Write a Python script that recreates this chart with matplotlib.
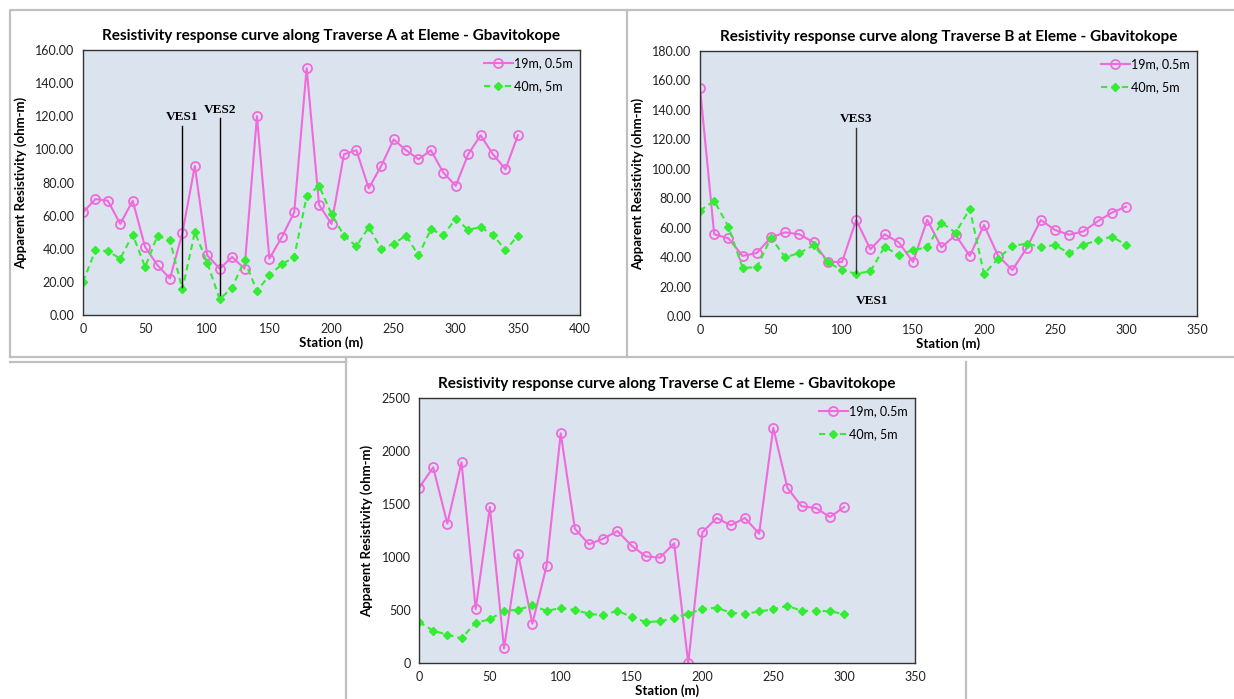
import matplotlib
matplotlib.use("Agg")
import matplotlib.pyplot as plt
from matplotlib.lines import Line2D

# station positions (m)
stations_a = list(range(0, 351, 10))
stations_bc = list(range(0, 301, 10))

# Traverse A
a_19m = [62, 70, 69, 55, 69, 41, 30, 22, 49.5, 90, 36, 28, 35, 28, 120, 34, 47, 62,
         149, 66.5, 55, 97, 99.5, 76.5, 90, 106, 99.5, 94, 99.5, 86, 78, 97, 108.5,
         97, 88, 108.5]
a_40m = [20, 39, 38.6, 34, 48.5, 29, 48, 45, 15.5, 50, 31.6, 9.5, 16.5, 33, 14.5, 24,
         30.6, 35, 71.6, 78, 61, 48, 41.5, 53, 40, 43, 48, 36, 51.7, 48.5, 58, 51.5,
         53, 48.5, 39, 48]

# Traverse B
b_19m = [155, 55.5, 52.8, 40.8, 42.8, 53.4, 56.8, 55.5, 50, 36.7, 36.7, 65.2, 45.3,
         55.5, 50, 36.7, 65.4, 46.6, 55, 40.8, 61.8, 40.8, 31.2, 46, 65.2, 58.4, 55.2,
         57.5, 64.3, 70.2, 74.3]
b_40m = [71.5, 78.3, 60.7, 32.8, 33, 53.2, 39.8, 42.8, 48, 36.7, 31, 28.8, 30.3, 47,
         41.4, 44.8, 46.6, 63.4, 56.6, 72.7, 28.5, 39, 47.8, 49, 47, 48.2, 42.6, 48.4,
         51.4, 53.9, 48.4]

# Traverse C
c_19m = [1651, 1846, 1315, 1893, 509, 1472, 138, 1028, 371, 915, 2167, 1267, 1120,
         1173, 1245, 1107, 1006, 994, 1129, 0, 1233, 1368, 1299, 1368, 1220, 2220,
         1651, 1478, 1462, 1377, 1472]
c_40m = [387, 305, 267, 233, 380, 412, 491, 503, 544, 491, 519, 500, 465, 450, 494,
         434, 387, 393, 425, 465, 509, 522, 475, 462, 487, 506, 541, 491, 494, 487, 462]

PINK = "#EF6ADB"
GREEN = "#35EC35"
BG = "#DBE3EF"
W, H = 1234, 699

fig = plt.figure(figsize=(W / 100, H / 100), dpi=100)
fig.patch.set_facecolor("white")


def box(x0, y0, x1, y1):
    return [x0 / W, 1 - y1 / H, (x1 - x0) / W, (y1 - y0) / H]


def frame_line(xs, ys):
    fig.add_artist(Line2D([x / W for x in xs], [1 - y / H for y in ys],
                          color="#C0C0C0", lw=1.6))


# panel frames
frame_line([10, 10, 1234], [357, 10, 10])
frame_line([10, 1234], [357, 357])
frame_line([627, 627], [10, 357])
frame_line([346, 346], [362, 699])
frame_line([966, 966], [362, 699])
frame_line([10, 346], [362, 362])
frame_line([346, 346], [357, 362])


def panel(rect, x, s1, s2, ymax, ystep, yfmt, title):
    ax = fig.add_axes(rect)
    ax.set_facecolor(BG)
    ax.plot(x, s1, color=PINK, lw=1.5, marker="o", ms=6.5, mfc="none", mew=1.3,
            label="19m, 0.5m")
    ax.plot(x, s2, color=GREEN, lw=1.5, ls=(0, (3, 2)), marker="D", ms=4,
            mfc=GREEN, mec=GREEN, label="40m, 5m")
    ax.set_ylim(0, ymax)
    ax.set_yticks(range(0, ymax + 1, ystep))
    ax.set_yticklabels([yfmt.format(v) for v in range(0, ymax + 1, ystep)])
    ax.tick_params(length=0, labelsize=9, colors="#222222", pad=6)
    for sp in ax.spines.values():
        sp.set_color("#333333")
        sp.set_linewidth(1)
    ax.set_title(title, fontsize=11, fontweight="bold", pad=7)
    ax.set_xlabel("Station (m)", fontsize=9.5, fontweight="bold", labelpad=1)
    ax.set_ylabel("Apparent Resistivity (ohm-m)", fontsize=9.5, fontweight="bold",
                  labelpad=6)
    ax.legend(loc="upper right", frameon=False, fontsize=9, handlelength=2.3,
              labelspacing=0.85, borderaxespad=0.2, handletextpad=0.1)
    return ax


plt.rcParams["font.family"] = ["Lato", "DejaVu Sans"]

ax_a = panel(box(83, 50, 580, 315), stations_a, a_19m, a_40m, 160, 20, "{:.2f}",
             "Resistivity response curve along Traverse A at Eleme - Gbavitokope")
ax_a.set_xlim(0, 400)
ax_a.set_xticks(range(0, 401, 50))

ax_b = panel(box(700, 51, 1197, 316), stations_bc, b_19m, b_40m, 180, 20, "{:.2f}",
             "Resistivity response curve along Traverse B at Eleme - Gbavitokope")
ax_b.set_xlim(0, 350)
ax_b.set_xticks(range(0, 351, 50))

ax_c = panel(box(419, 398, 915, 663), stations_bc, c_19m, c_40m, 2500, 500, "{:d}",
             "Resistivity response curve along Traverse C at Eleme - Gbavitokope")
ax_c.set_xlim(0, 350)
ax_c.set_xticks(range(0, 351, 50))

# VES markers
ves_font = dict(family=["Liberation Serif"], fontweight="bold", fontsize=9.5,
                ha="center", va="bottom")
ax_a.plot([80, 80], [17, 114], color="black", lw=1)
ax_a.text(80, 116, "VES1", **ves_font)
ax_a.plot([110, 110], [12, 119], color="black", lw=1)
ax_a.text(110, 120, "VES2", **ves_font)
ax_b.plot([110, 110], [29, 128], color="#333333", lw=1)
ax_b.text(110, 130, "VES3", **ves_font)
ax_b.text(121, 6, "VES1", **ves_font)

fig.savefig("out.png", dpi=100)
